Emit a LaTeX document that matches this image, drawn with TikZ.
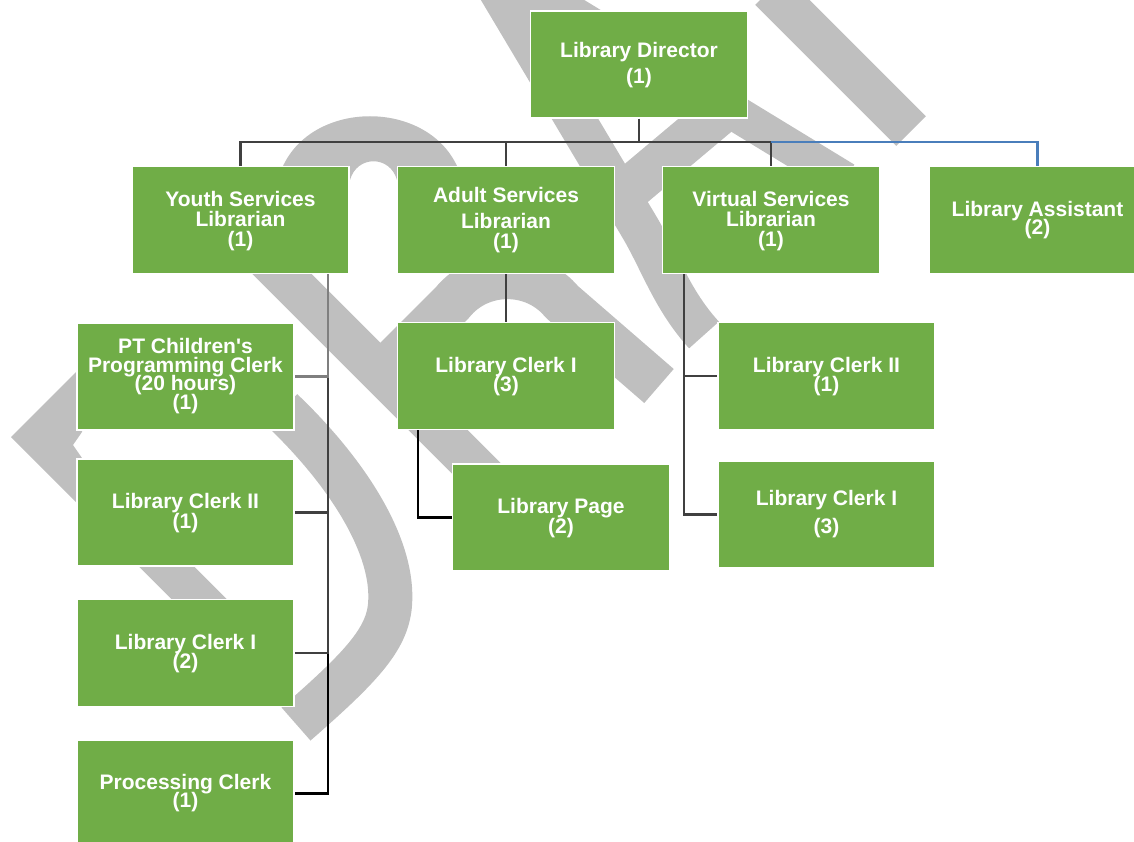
\documentclass[tikz,border=0pt]{standalone}
\usepackage{fontspec}
\setmainfont{Liberation Sans}
\definecolor{boxgreen}{HTML}{70AD47}
\definecolor{wmgray}{HTML}{BFBFBF}
\definecolor{linedark}{HTML}{404040}
\definecolor{linegray}{HTML}{7F7F7F}
\definecolor{lineblue}{HTML}{4A7EBB}
% fixed top for the first line of every label
\newcommand{\firstline}{\rule{0pt}{16pt}}
\begin{document}
\lineskiplimit=-50pt
\begin{tikzpicture}[x=1pt,y=-1pt,
  wm/.style={draw=wmgray, line cap=butt, line join=round},
  unit/.style={rectangle, fill=boxgreen, draw=white, line width=1.5pt,
    minimum width=217pt, minimum height=107pt, inner sep=0pt},
  ttl/.style={anchor=north, align=center, text=white, inner sep=0pt,
    font=\bfseries\fontsize{21}{20}\selectfont},
  conn/.style={draw=linedark, line width=2.6pt},
  blueconn/.style={draw=lineblue, line width=2.6pt}]
\useasboundingbox (0,0) rectangle (1134,842);

% ---- watermark strokes (behind everything) ----
\fill[wmgray] (11,437) -- (82,366) -- (82,432) -- (73,445) -- (82,458) -- (82,508) -- cycle;
\fill[wmgray] (278,180) .. controls (300,95) and (440,95) .. (462,180)
  -- (397,180) .. controls (390,155) and (357,155) .. (350,180) -- cycle;
\draw[wm, line width=44pt] (282,410) .. controls (345,470) and (395,545) .. (390,605)
  .. controls (387,640) and (360,668) .. (296,724);
\draw[wm, line width=42pt] (228,220) -- (520,512);
\draw[wm, line width=45pt] (368,387) -- (452,303) .. controls (480,268) and (534,268) .. (562,302) -- (659,386);
\draw[wm, line width=39pt] (110,510) -- (260,660);
\draw[wm, line width=40pt] (497,-12) -- (640,228) .. controls (660,262) and (672,300) .. (704,335);
\draw[wm, line width=44pt] (735,100) -- (610,205);
\draw[wm, line width=36pt] (530,-12) -- (845,180);
\draw[wm, line width=42pt] (770,-10) -- (911,131);

% ---- boxes ----
\node[unit] (dir)     at (639,64.5)   {};
\node[unit] (youth)   at (240.5,220)  {};
\node[unit] (adult)   at (506,220)    {};
\node[unit] (virt)    at (771,220)    {};
\node[unit] (assist)  at (1037.5,220) {};
\node[unit] (pt)      at (185.5,376.5) {};
\node[unit] (lc2)     at (185.5,512.5) {};
\node[unit] (lc1)     at (185.5,653)   {};
\node[unit] (proc)    at (185.5,793.5) {};
\node[unit] (aclerk)  at (506,376)     {};
\node[unit] (page)    at (561,517.5)   {};
\node[unit] (vclerk2) at (826.5,376)   {};
\node[unit] (vclerk1) at (826.5,514.5) {};

% ---- connectors ----
\coordinate (bus) at (639,142);
\draw[conn] (dir.south) -- (bus);
\draw[conn] (bus) -| (youth.north);
\draw[conn] (bus) -| (adult.north);
\draw[conn] (bus) -| (virt.north);
\draw[blueconn] (bus -| virt.north) -| (assist.north);

\coordinate (ytrunk) at (328,274);
\draw[conn, draw=black] (ytrunk) |- (proc.east);
\draw[conn] (ytrunk) |- (lc1.east);
\draw[conn] (ytrunk) |- (lc2.east);
\draw[conn, draw=linegray] (ytrunk) |- (pt.east);

\draw[conn] (adult.south) -- (aclerk.north);
\coordinate (atrunk) at (418,430);
\draw[conn, draw=black] (atrunk) |- (page.west);

\coordinate (vtrunk) at (684,274);
\draw[conn] (vtrunk) |- (vclerk1.west);
\draw[conn] (vtrunk) |- (vclerk2.west);

% ---- labels ----
\node[ttl] (dirT) at (639,41) {\firstline Library Director\\[6pt](1)};
\node[ttl] (youT) at (240.5,190) {\firstline Youth Services\\Librarian\\(1)};
\node[ttl] (adT)  at (506,186) {\firstline Adult Services\\[6pt]Librarian\\(1)};
\node[ttl] (viT)  at (771,190) {\firstline Virtual Services\\Librarian\\(1)};
\node[ttl] (asT)  at (1037.5,200) {\firstline Library Assistant\\[-2pt](2)};
\node[ttl] (ptT)  at (185.5,337) {\firstline PT Children\textquotesingle s\\[-1pt]Programming Clerk\\[-1.5pt](20 hours)\\[-1.5pt](1)};
\node[ttl] (lc2T) at (185.5,492) {\firstline Library Clerk II\\(1)};
\node[ttl] (lc1T) at (185.5,633) {\firstline Library Clerk I\\[-1pt](2)};
\node[ttl] (prT)  at (185.5,773) {\firstline Processing Clerk\\[-2pt](1)};
\node[ttl] (acT)  at (506,356) {\firstline Library Clerk I\\[-1pt](3)};
\node[ttl] (pgT)  at (561,497) {\firstline Library Page\\(2)};
\node[ttl] (v2T)  at (826.5,356) {\firstline Library Clerk II\\[-1pt](1)};
\node[ttl] (v1T)  at (826.5,489) {\firstline Library Clerk I\\[8pt](3)};
\end{tikzpicture}
\end{document}
